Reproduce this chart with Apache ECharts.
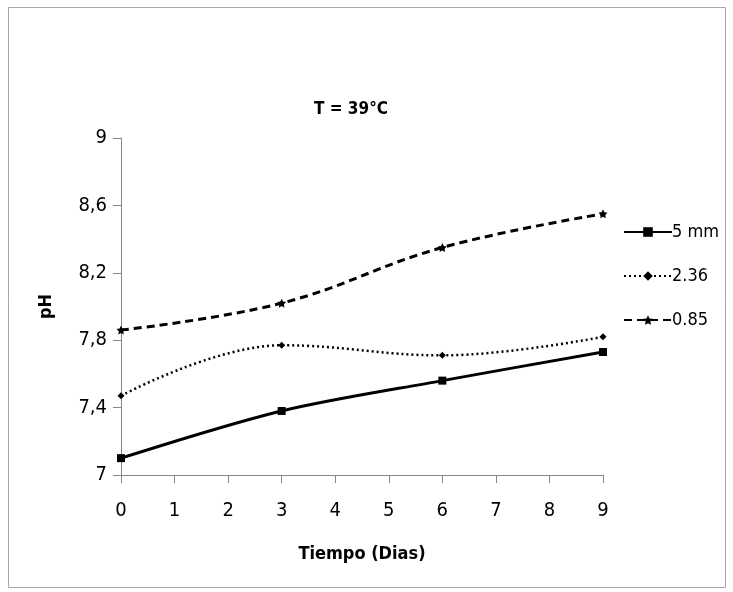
<!DOCTYPE html>
<html>
<head>
<meta charset="utf-8">
<script src="https://cdn.jsdelivr.net/npm/echarts@6/dist/echarts.min.js"></script>
<style>
  html, body { margin: 0; padding: 0; background: #fff; }
  #main { width: 733px; height: 592px; }
</style>
</head>
<body>
<div id="main"></div>
<script>
// datos
var dias = [0, 3, 6, 9];
var ph5mm = [7.1, 7.38, 7.56, 7.73];
var ph236 = [7.47, 7.77, 7.71, 7.82];
var ph085 = [7.86, 8.02, 8.35, 8.55];
var nombres = ['5 mm', '2.36', '0.85'];

var fuente = '"DejaVu Sans Condensed", "Liberation Sans Narrow", sans-serif';
var star = 'path://M0,-10 L2.9,-4 L9.5,-3.1 L4.7,1.5 L5.9,8.1 L0,5 L-5.9,8.1 L-4.7,1.5 L-9.5,-3.1 L-2.9,-4 Z';

function pares(ys) {
    var out = [];
    for (var i = 0; i < dias.length; i++) {
        out.push([dias[i], ys[i]]);
    }
    return out;
}

var chart = echarts.init(document.getElementById('main'));

var option = {
    backgroundColor: '#fff',
    animation: false,
    title: {
        text: 'T = 39°C',
        left: 346,
        top: 96,
        textAlign: 'center',
        textStyle: { fontFamily: fuente, fontSize: 17, fontWeight: 'bold', color: '#000' }
    },
    graphic: [{
        type: 'rect',
        shape: { x: 8.5, y: 7.5, width: 717, height: 580 },
        style: { fill: 'none', stroke: '#a6a6a6', lineWidth: 1 }
    }],
    legend: {
        orient: 'vertical',
        left: 618,
        top: 218,
        itemWidth: 48,
        itemHeight: 12,
        itemGap: 26,
        data: nombres,
        textStyle: { fontFamily: fuente, fontSize: 18, color: '#000', padding: [0, 0, 0, -5] }
    },
    grid: { left: 121, right: 130, top: 138, bottom: 117 },
    xAxis: {
        type: 'value',
        min: 0,
        max: 9,
        interval: 1,
        name: 'Tiempo (Dias)',
        nameLocation: 'middle',
        nameGap: 70,
        nameTextStyle: { fontFamily: fuente, fontSize: 18, fontWeight: 'bold', color: '#000' },
        axisLine: { lineStyle: { color: '#868686', width: 1 } },
        axisTick: { show: true, length: 8, lineStyle: { color: '#868686' } },
        axisLabel: { fontFamily: fuente, fontSize: 20, color: '#000', margin: 26 },
        splitLine: { show: false }
    },
    yAxis: {
        type: 'value',
        min: 7,
        max: 9,
        interval: 0.4,
        name: 'pH',
        nameLocation: 'middle',
        nameGap: 66,
        nameRotate: 90,
        nameTextStyle: { fontFamily: fuente, fontSize: 18, fontWeight: 'bold', color: '#000' },
        axisLine: { show: true, lineStyle: { color: '#868686', width: 1 } },
        axisTick: { show: true, length: 8, lineStyle: { color: '#868686' } },
        axisLabel: {
            fontFamily: fuente, fontSize: 20, color: '#000', margin: 14,
            formatter: function (v) {
                return String(Math.round(v * 10) / 10).replace('.', ',');
            }
        },
        splitLine: { show: false }
    },
    series: [{
        name: nombres[0],
        type: 'line',
        smooth: 0.3,
        data: pares(ph5mm),
        symbol: 'rect',
        symbolSize: 8,
        itemStyle: { color: '#000' },
        lineStyle: { color: '#000', width: 3 }
    }, {
        name: nombres[1],
        type: 'line',
        smooth: 0.4,
        data: pares(ph236),
        symbol: 'diamond',
        symbolSize: 7,
        itemStyle: { color: '#000' },
        lineStyle: { color: '#000', width: 2.5, type: [2, 3] }
    }, {
        name: nombres[2],
        type: 'line',
        smooth: 0.4,
        data: pares(ph085),
        symbol: star,
        symbolSize: 9,
        itemStyle: { color: '#000' },
        lineStyle: { color: '#000', width: 3, type: [8, 5] }
    }]
};

chart.setOption(option);
</script>
</body>
</html>
